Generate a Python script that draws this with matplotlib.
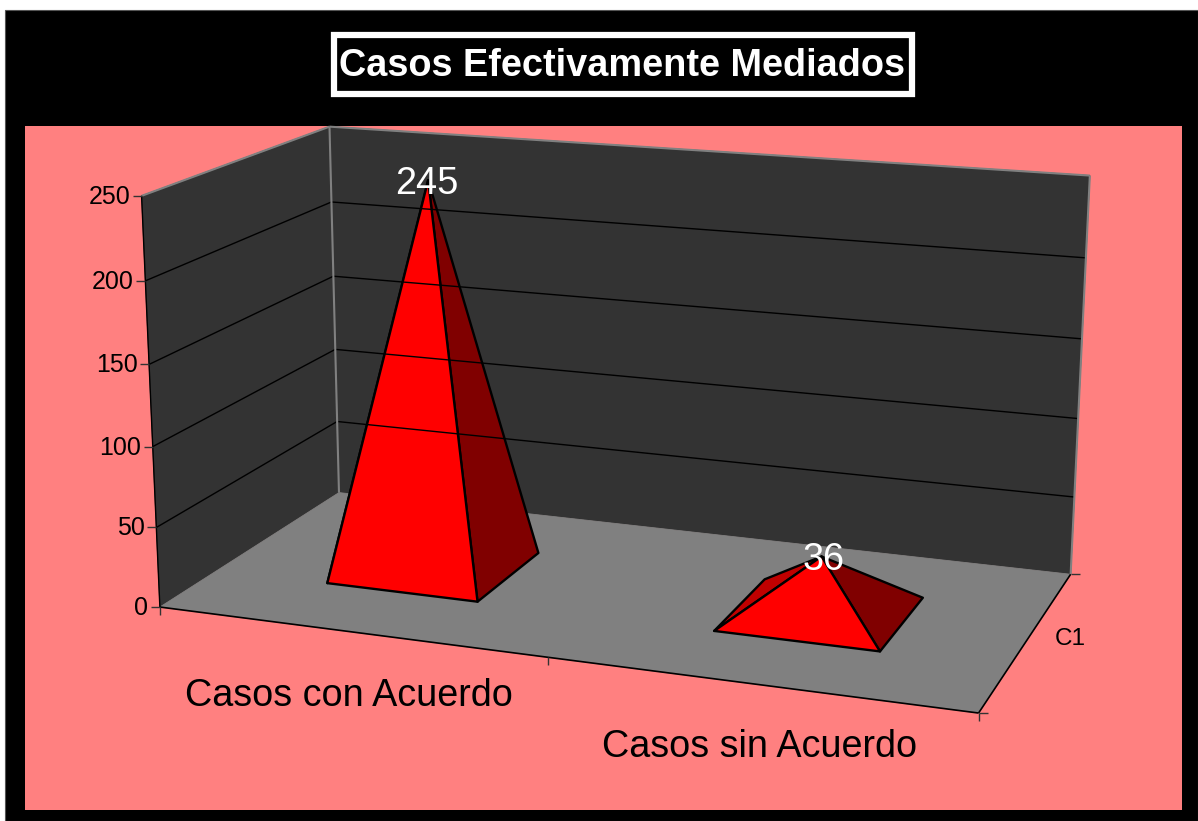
import numpy as np
import matplotlib
matplotlib.use("Agg")
import matplotlib.pyplot as plt
from matplotlib.patches import Polygon, Rectangle

plt.rcParams['font.family'] = ['Liberation Sans', 'DejaVu Sans']

# --- data ---
title = "Casos Efectivamente Mediados"
categories = ["Casos con Acuerdo", "Casos sin Acuerdo"]
values = [245, 36]
series_name = "C1"
y_ticks = [0, 50, 100, 150, 200, 250]

# --- 3D frame calibration: (category, depth, value) -> canvas pixel ---
Y_MAX = 250
N = len(categories)
calib_3d = [(0, 0, 0), (N, 0, 0), (N, 1, 0), (0, 1, 0),
            (0, 0, Y_MAX), (0, 1, Y_MAX), (N, 1, Y_MAX)]
calib_px = [(160, 607), (978, 714), (1071, 573), (339, 493),
            (142, 195), (329, 127), (1090, 176)]


def fit_camera(world, pixels):
    rows, rhs = [], []
    for (X, Y, Z), (u, v) in zip(world, pixels):
        Z = Z / Y_MAX
        rows.append([X, Y, Z, 1, 0, 0, 0, 0, -u * X, -u * Y, -u * Z])
        rhs.append(u)
        rows.append([0, 0, 0, 0, X, Y, Z, 1, -v * X, -v * Y, -v * Z])
        rhs.append(v)
    sol = np.linalg.lstsq(np.array(rows, float), np.array(rhs, float), rcond=None)[0]
    return np.append(sol, 1).reshape(3, 4)


CAM = fit_camera(calib_3d, calib_px)


def proj(cat, depth, val):
    p = CAM @ np.array([cat, depth, val / Y_MAX, 1.0])
    return p[0] / p[2], p[1] / p[2]


# --- canvas ---
W, H = 1198, 821
fig = plt.figure(figsize=(W / 100, H / 100), dpi=100, facecolor="white")
ax = fig.add_axes([0, 0, 1, 1])
ax.set_xlim(0, W)
ax.set_ylim(H, 0)
ax.axis("off")

PINK = "#FF8080"
WALL = "#333333"
FLOOR = "#808080"
EDGE = "#808080"

ax.add_patch(Rectangle((5, 10), W - 5, H - 10, fc="black", ec="#555555", lw=0.8))
ax.add_patch(Rectangle((25, 126), 1157, 684, fc=PINK, ec="none"))

# title
ax.add_patch(Rectangle((333.5, 35.5), 578, 59, fc="black", ec="white", lw=4.5))
ax.text(622, 66, title, color="white", fontsize=27.3, fontweight="bold",
        ha="center", va="center")

# walls and floor
ax.add_patch(Polygon([proj(0, 0, 0), proj(0, 0, Y_MAX), proj(0, 1, Y_MAX), proj(0, 1, 0)],
                     fc=WALL, ec=WALL, lw=0.6))
ax.add_patch(Polygon([proj(0, 1, 0), proj(0, 1, Y_MAX), proj(N, 1, Y_MAX), proj(N, 1, 0)],
                     fc=WALL, ec=WALL, lw=0.6))
ax.add_patch(Polygon([proj(0, 0, 0), proj(N, 0, 0), proj(N, 1, 0), proj(0, 1, 0)],
                     fc=FLOOR, ec=FLOOR, lw=0.6))


def seg(a, b, **kw):
    ax.plot([a[0], b[0]], [a[1], b[1]], solid_capstyle="butt", **kw)


# gridlines
for t in y_ticks[1:-1]:
    seg(proj(0, 0, t), proj(0, 1, t), color="black", lw=1)
    seg(proj(0, 1, t), proj(N, 1, t), color="black", lw=1)

# wall edges
seg(proj(0, 0, Y_MAX), proj(0, 1, Y_MAX), color=EDGE, lw=1.5)
seg(proj(0, 1, Y_MAX), proj(N, 1, Y_MAX), color=EDGE, lw=1.5)
seg(proj(0, 1, Y_MAX), proj(0, 1, 0), color=EDGE, lw=1.5)
seg(proj(N, 1, Y_MAX), proj(N, 1, 0), color=EDGE, lw=1.5)
seg(proj(0, 0, Y_MAX), proj(0, 0, 0), color="black", lw=1)
seg(proj(0, 0, 0), proj(N, 0, 0), color="black", lw=1.2)
seg(proj(N, 0, 0), proj(N, 1, 0), color="black", lw=1.2)

# value axis ticks
for t in y_ticks:
    x, y = proj(0, 0, t)
    seg((x - 9, y), (x, y), color="#333333", lw=1)
    ax.text(x - 11.5, y + 1, str(t), fontsize=18, ha="right", va="center", color="black")

# category ticks
for c in range(N + 1):
    x, y = proj(c, 0, 0)
    seg((x, y), (x, y + 8), color="#333333", lw=1)

# depth ticks
for d in (0, 1):
    x, y = proj(N, d, 0)
    seg((x, y), (x + 9, y), color="#333333", lw=1)
ax.text(1070, 639, series_name, fontsize=17.5, ha="center", va="center", color="black")

# category labels
label_offsets = [(0, 64), (2, 63)]
for i, name in enumerate(categories):
    x, y = proj(i + 0.5, 0, 0)
    ax.text(x + label_offsets[i][0], y + label_offsets[i][1], name, fontsize=27.2,
            ha="center", va="center", color="black")

# pyramids
HALF_W = 0.2
HALF_D = 0.2
label_dx = [-1, 2]
for i, val in enumerate(values):
    cu, cv = i + 0.5, 0.5
    fl = proj(cu - HALF_W, cv - HALF_D, 0)
    fr = proj(cu + HALF_W, cv - HALF_D, 0)
    br = proj(cu + HALF_W, cv + HALF_D, 0)
    bl = proj(cu - HALF_W, cv + HALF_D, 0)
    apex = proj(cu, cv, val)
    style = dict(ec="black", lw=1.7, joinstyle="round")
    ax.add_patch(Polygon([bl, fl, apex], fc="#C00000", **style))
    ax.add_patch(Polygon([fr, br, apex], fc="#800000", **style))
    ax.add_patch(Polygon([fl, fr, apex], fc="#FF0000", **style))
    ax.text(apex[0] + label_dx[i], apex[1] + 3.5, str(val), fontsize=27.4, color="white",
            ha="center", va="center")

fig.savefig("out.png", dpi=100, facecolor=fig.get_facecolor())
